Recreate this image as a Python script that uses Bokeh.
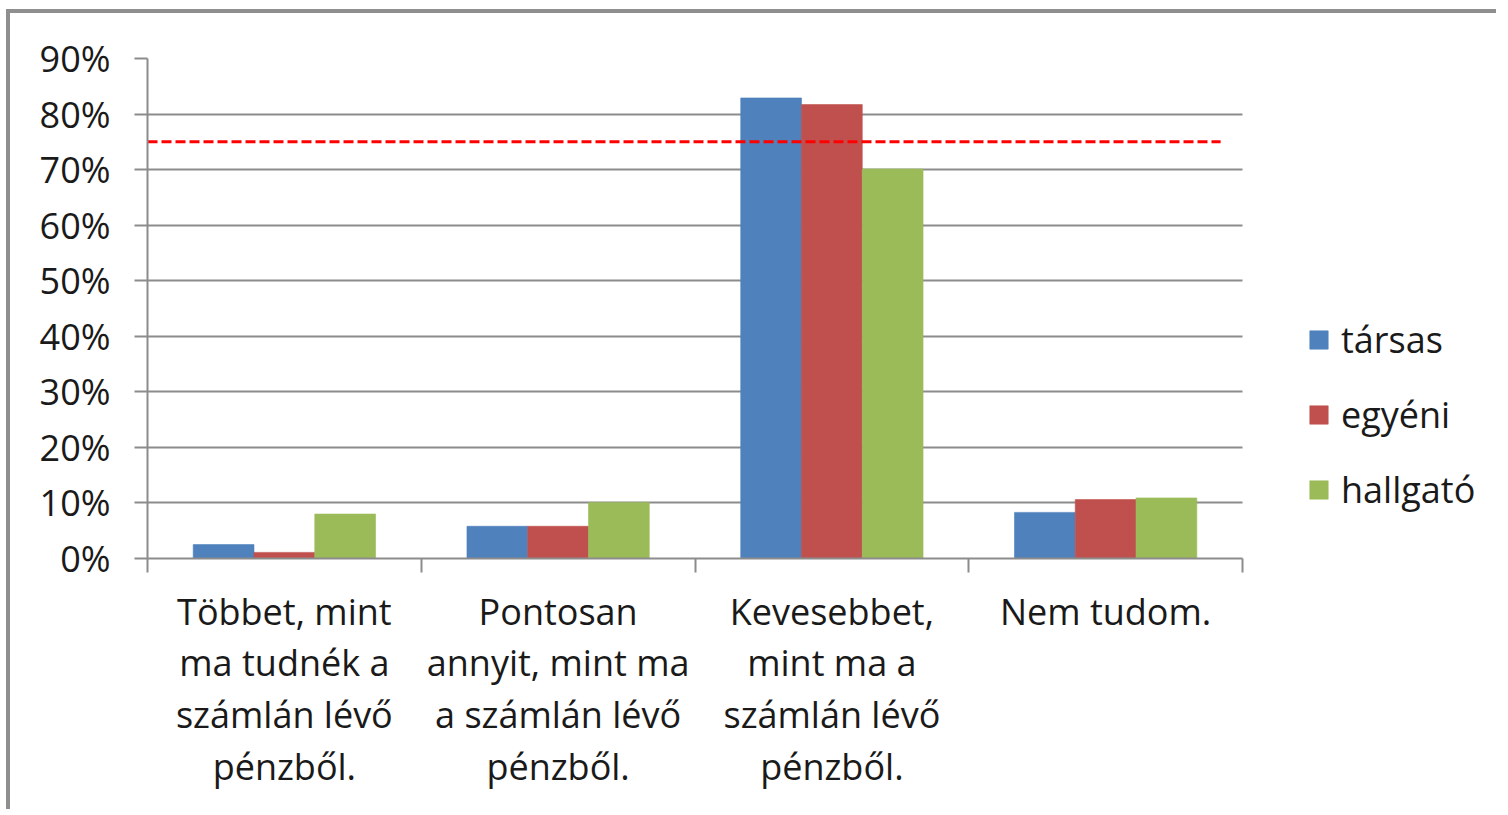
from bokeh.plotting import figure
from bokeh.models import Range1d, FixedTicker, NumeralTickFormatter, ColumnDataSource
from bokeh.embed import file_html
from bokeh.resources import INLINE

categories = [
    "Többet, mint\nma tudnék a\nszámlán lévő\npénzből.",
    "Pontosan\nannyit, mint ma\na számlán lévő\npénzből.",
    "Kevesebbet,\nmint ma a\nszámlán lévő\npénzből.",
    "Nem tudom.",
]
series_names = ["társas", "egyéni", "hallgató"]
tarsas = [0.025, 0.058, 0.829, 0.083]
egyeni = [0.011, 0.058, 0.817, 0.106]
hallgato = [0.080, 0.101, 0.701, 0.109]
threshold = 0.75
y_ticks = [0.0, 0.1, 0.2, 0.3, 0.4, 0.5, 0.6, 0.7, 0.8, 0.9]

colors = ["#4F81BD", "#C0504D", "#9BBB59"]
FONT = "Open Sans"
TEXT = "#1a1a1a"
GRID = "#8c8c8c"

n = len(categories)
centers = [i + 0.5 for i in range(n)]
bar_w = 0.222
offsets = [-bar_w, 0.0, bar_w]
# plot area is widened to the right to leave room for the legend (layout only)
legend_room = 1.2356

p = figure(width=1490, height=800, output_backend="svg", toolbar_location=None,
           x_range=Range1d(0, n * legend_room), y_range=Range1d(0, y_ticks[-1]),
           min_border_left=137, min_border_right=0, min_border_top=45, min_border_bottom=255)
p.styles = {"margin-left": "6px", "margin-top": "9px",
            "border-left": "4px solid #8f8f8f", "border-top": "4px solid #8f8f8f"}
p.outline_line_color = None
p.background_fill_color = "white"
p.border_fill_color = "white"

for vals, name, col, off in zip([tarsas, egyeni, hallgato], series_names, colors, offsets):
    src = ColumnDataSource(dict(x=[c + off for c in centers], top=vals))
    p.vbar(x="x", top="top", width=bar_w, bottom=0, source=src, fill_color=col,
           line_color=col, line_alpha=0.6, legend_label=name)

# threshold line
p.line(x=[0, n - 0.08], y=[threshold, threshold], line_color="#ff0000", line_width=3,
       line_dash="10 4")

# axes
xa = p.xaxis[0]
xa.bounds = (0, n)
xa.ticker = FixedTicker(ticks=centers, minor_ticks=list(range(n + 1)))
xa.major_label_overrides = {c: lab for c, lab in zip(centers, categories)}
xa.major_tick_line_color = None
xa.minor_tick_line_color = GRID
xa.minor_tick_line_width = 2
xa.minor_tick_in = 0
xa.minor_tick_out = 14
xa.axis_line_color = GRID
xa.axis_line_width = 2
xa.major_label_text_font = FONT
xa.major_label_text_font_size = "36px"
xa.major_label_text_color = TEXT
xa.major_label_text_line_height = 1.06
xa.major_label_standoff = 14

ya = p.yaxis[0]
ya.ticker = FixedTicker(ticks=y_ticks)
ya.formatter = NumeralTickFormatter(format="0%")
ya.major_tick_line_color = GRID
ya.major_tick_line_width = 2
ya.major_tick_in = 0
ya.major_tick_out = 13
ya.minor_tick_line_color = None
ya.axis_line_color = GRID
ya.axis_line_width = 2
ya.major_label_text_font = FONT
ya.major_label_text_font_size = "36px"
ya.major_label_text_color = TEXT
ya.major_label_standoff = 24

p.xgrid.grid_line_color = None
p.ygrid.grid_line_color = GRID
p.ygrid.grid_line_width = 2
p.ygrid.cross_bounds = (0, n)

lg = p.legend[0]
lg.location = (1160, 44)
lg.padding = 0
lg.margin = 0
lg.border_line_color = None
lg.background_fill_alpha = 0
lg.glyph_width = 23
lg.glyph_height = 23
lg.label_text_font = FONT
lg.label_text_font_size = "36px"
lg.label_text_color = TEXT
lg.label_standoff = 11
lg.spacing = 26

open("out.html", "w").write(file_html(p, INLINE))
